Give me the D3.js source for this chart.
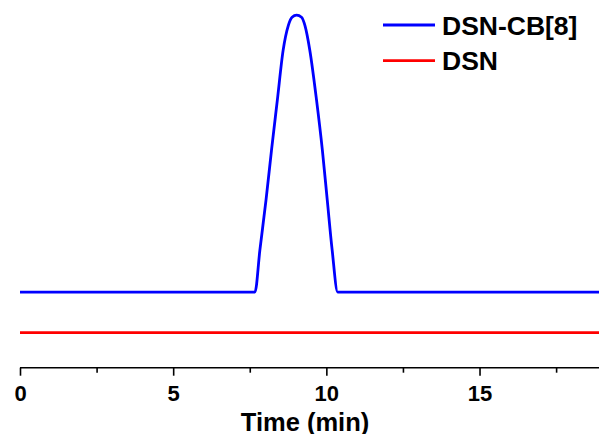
<!DOCTYPE html>
<html>
<head>
<meta charset="utf-8">
<script src="https://cdn.jsdelivr.net/npm/d3@7"></script>
<style>
  html, body { margin: 0; padding: 0; background: #fff; }
  svg { display: block; font-family: "Liberation Sans", Arial, sans-serif; }
</style>
</head>
<body>
<svg id="chart" width="599" height="434"></svg>
<script>
// ---- data ----
const seriesNames = ["DSN-CB[8]", "DSN"];
const seriesColors = ["#0000ff", "#ff0000"];
// DSN-CB[8] trace (time in min, signal in a.u.)
const cbTime = [0, 2, 4, 6, 7.67, 7.83, 8.03, 8.21, 8.40, 8.59, 8.76, 8.88, 9.03, 9.19, 9.30, 9.46, 9.68, 9.87, 10.03, 10.19, 10.37, 12, 14, 16, 18, 19];
const cbSignal = [10, 10, 10, 10, 10, 20.3, 32.6, 44.9, 57.2, 69.5, 75.6, 77.6, 78.1, 77.6, 75.6, 69.5, 57.2, 44.9, 32.6, 20.3, 10, 10, 10, 10, 10, 10];
// DSN trace
const dsnTime = [0, 5, 10, 15, 19];
const dsnSignal = [0, 0, 0, 0, 0];
const majorTicks = [0, 5, 10, 15];
const minorTicks = [2.5, 7.5, 12.5, 17.5];
const xTitle = "Time (min)";

// ---- drawing ----
const svg = d3.select("#chart");
const x = d3.scaleLinear().domain([0, 18.9]).range([20, 599]);
const y = d3.scaleLinear().domain([0, 78.1]).range([332.7, 15.2]);
const axisY = 367.7;

const series = [
  d3.zip(cbTime, cbSignal),
  d3.zip(dsnTime, dsnSignal)
];

const lineGen = d3.line().x(d => x(d[0])).y(d => y(d[1])).curve(d3.curveMonotoneX);

svg.selectAll("path.series")
  .data(series)
  .join("path")
  .attr("class", "series")
  .attr("fill", "none")
  .attr("stroke", (d, i) => seriesColors[i])
  .attr("stroke-width", 2.8)
  .attr("stroke-linejoin", "round")
  .attr("d", lineGen);

// x axis (major)
const gx = svg.append("g")
  .attr("transform", `translate(0,${axisY})`)
  .call(d3.axisBottom(x).tickValues(majorTicks).tickSize(8).tickSizeOuter(0).tickPadding(10).tickFormat(d3.format("d")));
gx.select(".domain").attr("stroke", "#000").attr("stroke-width", 1.6)
  .attr("d", `M${x(0)},0H599`);
gx.selectAll(".tick line").attr("stroke", "#000").attr("stroke-width", 1.6);
gx.selectAll(".tick text")
  .attr("fill", "#000")
  .attr("font-size", 22)
  .attr("font-weight", "bold")
  .attr("font-family", "'Liberation Sans', Arial, sans-serif");

// minor ticks
const gm = svg.append("g")
  .attr("transform", `translate(0,${axisY})`)
  .call(d3.axisBottom(x).tickValues(minorTicks).tickSize(5).tickSizeOuter(0).tickFormat(""));
gm.select(".domain").remove();
gm.selectAll(".tick line").attr("stroke", "#000").attr("stroke-width", 1.6);

// x title
svg.append("text")
  .attr("x", 305)
  .attr("y", 430.5)
  .attr("text-anchor", "middle")
  .attr("font-size", 25.5)
  .attr("font-weight", "bold")
  .attr("fill", "#000")
  .text(xTitle);

// legend
const legend = svg.append("g");
const legendRows = [25, 60.7];
seriesNames.forEach((name, i) => {
  legend.append("line")
    .attr("x1", 383).attr("x2", 435)
    .attr("y1", legendRows[i]).attr("y2", legendRows[i])
    .attr("stroke", seriesColors[i])
    .attr("stroke-width", 2.8);
  legend.append("text")
    .attr("x", 442)
    .attr("y", legendRows[i] + 9.5)
    .attr("font-size", 26.5)
    .attr("font-weight", "bold")
    .attr("fill", "#000")
    .text(name);
});
</script>
</body>
</html>
